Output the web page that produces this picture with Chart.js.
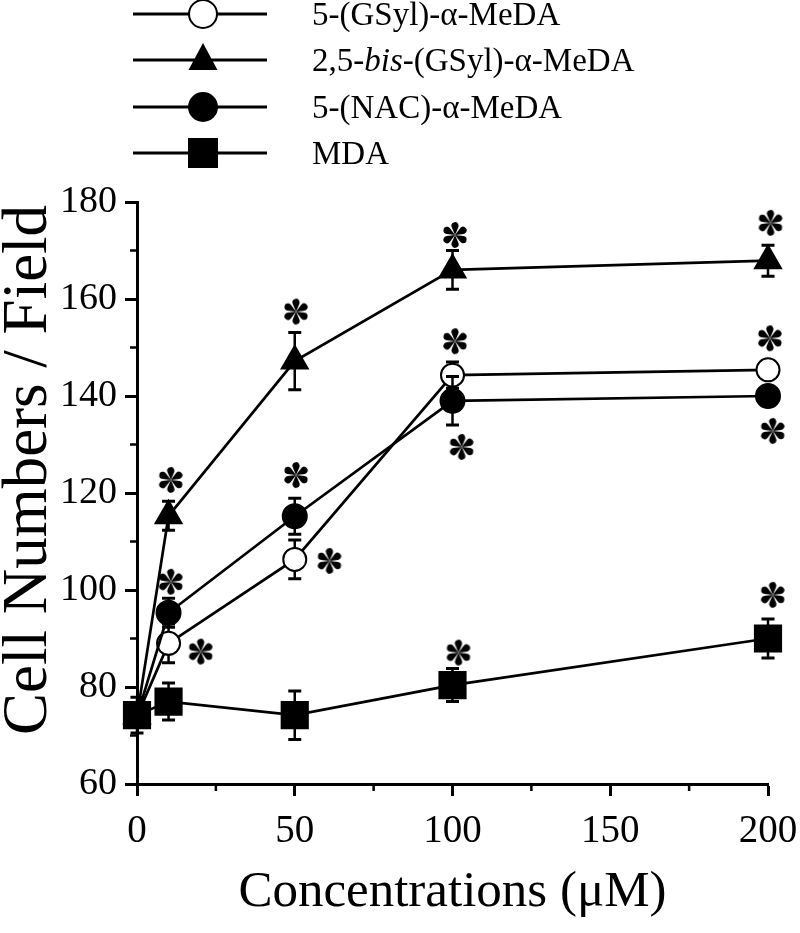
<!DOCTYPE html>
<html>
<head>
<meta charset="utf-8">
<script src="https://cdn.jsdelivr.net/npm/chart.js@4.4.1/dist/chart.umd.min.js"></script>
<style>
  html, body { margin: 0; padding: 0; background: #fff; }
  canvas { display: block; }
</style>
</head>
<body>
<canvas id="grafica" width="800" height="933"></canvas>
<script>
const concentraciones = [0, 10, 50, 100, 200];

const gsylValores = [74, 89, 106.3, 144.3, 145.4];
const gsylError = [0, 4, 4, 2.7, 0];

const bisValores = [74, 115.3, 147.2, 166, 167.9];
const bisError = [0, 3, 5.9, 4, 3.2];

const nacValores = [74, 95.3, 115.2, 139, 140];
const nacError = [0, 3, 3.7, 5, 2];

const mdaValores = [74.2, 77, 74.2, 80.4, 90];
const mdaError = [3.7, 3.8, 5, 3.4, 4];

// asteriscos de significancia, en unidades de datos
const asteriscosX = [10.7, 50.4, 100.8, 200.8, 20.2, 61, 100.8, 200.6, 10.7, 50.4, 102.9, 201.5, 101.9, 201.5];
const asteriscosY = [122.7, 157.4, 173.2, 175.7, 87.3, 106, 151.3, 151.9, 101.7, 123.7, 129.5, 132.8, 87.1, 99];

const ticksX = [0, 50, 100, 150, 200];
const ticksY = [60, 80, 100, 120, 140, 160, 180];
const ticksMenoresX = [25, 75, 125, 175];
const ticksMenoresY = [70, 90, 110, 130, 150, 170];

const nombres = ['5-(GSyl)-\u03b1-MeDA', '2,5-<i>bis</i>-(GSyl)-\u03b1-MeDA', '5-(NAC)-\u03b1-MeDA', 'MDA'];

const fuente = '"Liberation Serif", "Times New Roman", serif';

// dibuja el asterisco de seis petalos en un canvas pequeño
function crearAsterisco() {
    const c = document.createElement('canvas');
    c.width = 30;
    c.height = 30;
    const ctx = c.getContext('2d');
    ctx.translate(15, 15);
    ctx.fillStyle = '#000';
    const d = 9.2, r = 3.6;
    const th = Math.asin(r / d);
    for (let k = 0; k < 6; k++) {
        ctx.save();
        ctx.rotate(k * Math.PI / 3);
        ctx.beginPath();
        ctx.moveTo(0, 0);
        ctx.arc(0, -d, r, Math.PI - th, 2 * Math.PI + th, false);
        ctx.closePath();
        ctx.fill();
        ctx.restore();
    }
    return c;
}

function puntos(valores) {
    return concentraciones.map((x, i) => ({x: x, y: valores[i]}));
}

function serie(nombre, valores, errores, estilo, radio, relleno, orden) {
    return {
        label: nombre,
        data: puntos(valores),
        errores: errores,
        borderColor: '#000',
        borderWidth: 2.7,
        pointStyle: estilo,
        pointRadius: radio,
        pointHoverRadius: radio,
        pointBackgroundColor: relleno,
        pointBorderColor: '#000',
        pointBorderWidth: 2,
        tension: 0,
        clip: false,
        order: orden
    };
}

const erroresPlugin = {
    id: 'errores',
    beforeDatasetDraw(chart, args) {
        const ds = chart.data.datasets[args.index];
        if (!ds.errores) return;
        const xs = chart.scales.x, ys = chart.scales.y;
        const ctx = chart.ctx;
        ctx.save();
        ctx.strokeStyle = '#000';
        ds.data.forEach((p, i) => {
            const e = ds.errores[i];
            if (!e) return;
            const px = xs.getPixelForValue(p.x);
            const y1 = ys.getPixelForValue(p.y + e);
            const y2 = ys.getPixelForValue(p.y - e);
            ctx.lineWidth = 2.5;
            ctx.beginPath();
            ctx.moveTo(px, y1);
            ctx.lineTo(px, y2);
            ctx.stroke();
            ctx.lineWidth = 3;
            ctx.beginPath();
            ctx.moveTo(px - 6.5, y1);
            ctx.lineTo(px + 6.5, y1);
            ctx.moveTo(px - 6.5, y2);
            ctx.lineTo(px + 6.5, y2);
            ctx.stroke();
        });
        ctx.restore();
    }
};

function marcador(ctx, estilo, x, y) {
    ctx.beginPath();
    if (estilo === 'abierto' || estilo === 'circle') {
        ctx.arc(x, y, 14, 0, Math.PI * 2);
        ctx.fillStyle = estilo === 'abierto' ? '#fff' : '#000';
        ctx.fill();
        ctx.lineWidth = 2;
        ctx.stroke();
    } else if (estilo === 'triangle') {
        ctx.moveTo(x, y - 17);
        ctx.lineTo(x + 14.5, y + 10);
        ctx.lineTo(x - 14.5, y + 10);
        ctx.closePath();
        ctx.fillStyle = '#000';
        ctx.fill();
    } else {
        ctx.rect(x - 15, y - 15, 30, 30);
        ctx.fillStyle = '#000';
        ctx.fill();
    }
}

const leyendaPlugin = {
    id: 'leyenda',
    afterDraw(chart) {
        const ctx = chart.ctx;
        const filas = [14, 60, 107, 153];
        const estilos = ['abierto', 'triangle', 'circle', 'rect'];
        ctx.save();
        ctx.strokeStyle = '#000';
        filas.forEach((fy, i) => {
            ctx.lineWidth = 3;
            ctx.beginPath();
            ctx.moveTo(133, fy);
            ctx.lineTo(267, fy);
            ctx.stroke();
            marcador(ctx, estilos[i], 203, fy);
            // texto con partes en cursiva
            let x = 312;
            ctx.fillStyle = '#000';
            ctx.textBaseline = 'alphabetic';
            nombres[i].split(/<\/?i>/).forEach((parte, k) => {
                ctx.font = (k % 2 ? 'italic ' : '') + '33px ' + fuente;
                ctx.fillText(parte, x, fy + 11);
                x += ctx.measureText(parte).width;
            });
        });

        // ticks menores
        const xs = chart.scales.x, ys = chart.scales.y;
        ctx.lineWidth = 2.5;
        ctx.beginPath();
        ticksMenoresX.forEach(v => {
            const px = xs.getPixelForValue(v);
            ctx.moveTo(px, ys.bottom);
            ctx.lineTo(px, ys.bottom + 7);
        });
        ticksMenoresY.forEach(v => {
            const py = ys.getPixelForValue(v);
            ctx.moveTo(xs.left - 7, py);
            ctx.lineTo(xs.left, py);
        });
        ctx.stroke();

        // titulo del eje y
        ctx.font = '63px ' + fuente;
        ctx.textAlign = 'center';
        ctx.textBaseline = 'middle';
        ctx.translate(29, 470);
        ctx.rotate(-Math.PI / 2);
        ctx.fillText('Cell Numbers / Field', 0, 0);
        ctx.restore();
    }
};

const asterisco = crearAsterisco();

new Chart(document.getElementById('grafica').getContext('2d'), {
    type: 'line',
    data: {
        datasets: [
            serie(nombres[3], mdaValores, mdaError, 'rect', 18.5, '#000', 0),
            serie(nombres[1], bisValores, bisError, 'triangle', 15, '#000', 1),
            serie(nombres[2], nacValores, nacError, 'circle', 12, '#000', 2),
            serie(nombres[0], gsylValores, gsylError, 'circle', 11.5, '#fff', 3),
            {
                label: 'asteriscos',
                data: asteriscosX.map((x, i) => ({x: x, y: asteriscosY[i]})),
                showLine: false,
                pointStyle: asterisco,
                pointRadius: 14,
                clip: false,
                order: 9
            }
        ]
    },
    options: {
        responsive: false,
        animation: false,
        layout: {padding: {top: 202, right: 32, left: 0, bottom: 0}},
        plugins: {legend: {display: false}, tooltip: {enabled: false}},
        scales: {
            x: {
                type: 'linear',
                min: 0,
                max: 200,
                afterBuildTicks: s => { s.ticks = ticksX.map(v => ({value: v})); },
                afterFit: s => { s.height = 149; s.paddingLeft = 0; s.paddingRight = 0; },
                border: {color: '#000', width: 3},
                grid: {drawOnChartArea: false, drawTicks: true, tickLength: 12, tickWidth: 3, tickColor: '#000'},
                ticks: {color: '#000', font: {family: fuente, size: 39}, padding: 12, maxRotation: 0},
                title: {display: true, text: 'Concentrations (\u03bcM)', color: '#000',
                    font: {family: fuente, size: 51, lineHeight: 1.1}, padding: {top: 0, bottom: 12}}
            },
            y: {
                min: 60,
                max: 180,
                afterBuildTicks: s => { s.ticks = ticksY.map(v => ({value: v})); },
                afterFit: s => { s.width = 137; s.paddingTop = 0; s.paddingBottom = 0; },
                border: {color: '#000', width: 3},
                grid: {drawOnChartArea: false, drawTicks: true, tickLength: 12, tickWidth: 3, tickColor: '#000'},
                ticks: {color: '#000', font: {family: fuente, size: 38}, padding: 8}
            }
        }
    },
    plugins: [erroresPlugin, leyendaPlugin]
});
</script>
</body>
</html>
